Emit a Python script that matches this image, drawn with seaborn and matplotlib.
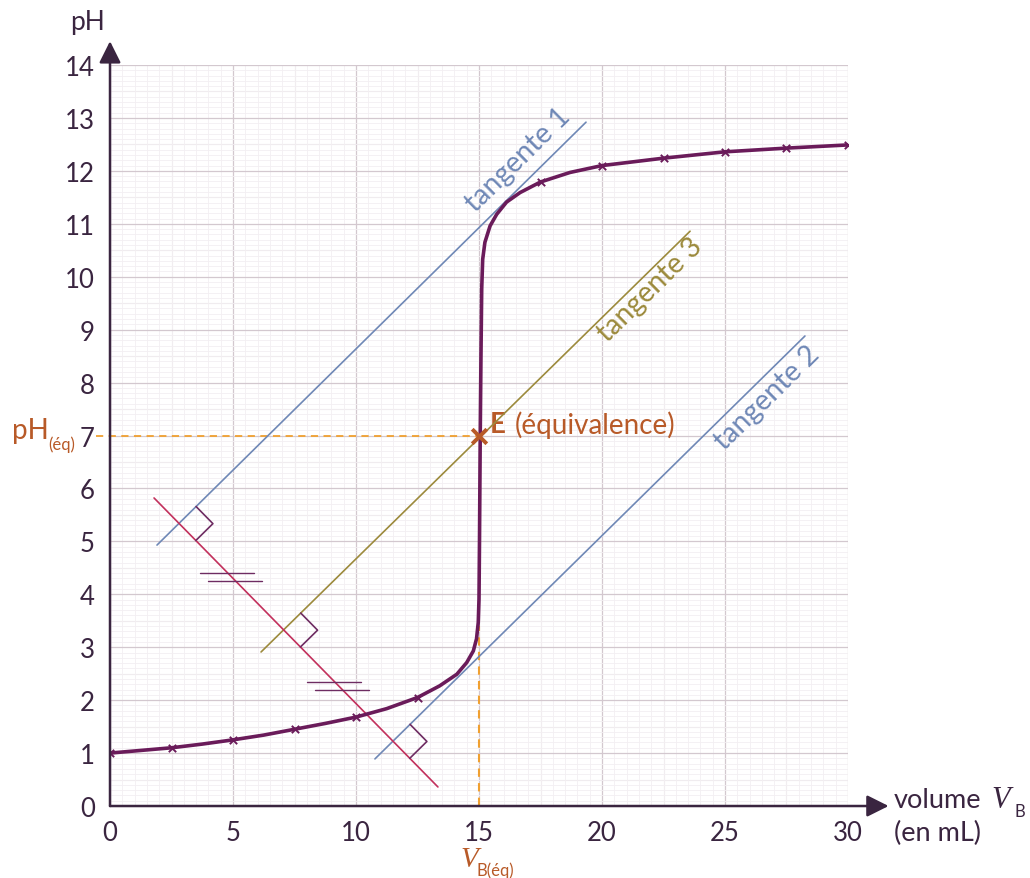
import numpy as np
import pandas as pd
import seaborn as sns
import matplotlib.pyplot as plt
from matplotlib.ticker import MultipleLocator

# measured points (crosses on the curve)
mes_v = [0, 2.5, 5, 7.5, 10, 12.5, 17.5, 20, 22.5, 25, 27.5, 30]
mes_ph = [1.0, 1.1, 1.25, 1.45, 1.68, 2.05, 11.79, 12.1, 12.24, 12.36, 12.43, 12.49]

# titration curve
curve_v = [0, 1.25, 2.5, 3.75, 5, 6.25, 7.5, 8.75, 10, 11.25, 12.5, 13.4, 14.1, 14.5,
           14.77, 14.9, 14.97, 15.0, 15.02, 15.05, 15.08, 15.11, 15.15, 15.24, 15.45,
           15.72, 16.12, 16.67, 17.5, 18.7, 20, 22.5, 25, 27.5, 30]
curve_ph = [1.0, 1.05, 1.1, 1.17, 1.25, 1.34, 1.45, 1.56, 1.68, 1.84, 2.05, 2.27, 2.49, 2.71,
            2.93, 3.16, 3.47, 3.91, 5.0, 7.0, 8.5, 9.77, 10.33, 10.65, 10.96,
            11.18, 11.41, 11.59, 11.79, 11.97, 12.1, 12.24, 12.36, 12.43, 12.49]

# construction lines (end points)
tan1 = [(1.91, 4.93), (19.35, 12.92)]
tan2 = [(10.77, 0.89), (28.25, 8.88)]
tan3 = [(6.14, 2.91), (23.58, 10.86)]
perp = [(1.79, 5.82), (13.33, 0.36)]

v_eq, ph_eq = 15, 7
x_ticks = [0, 5, 10, 15, 20, 25, 30]
y_ticks = list(range(0, 15))

c_axis = '#3a2540'
c_curve = '#6a1b5a'
c_blue = '#6f88b6'
c_olive = '#9c8a3c'
c_perp = '#c2305c'
c_mark = '#6e2c62'
c_eq = '#b85a28'
c_dash = '#f0a030'

sns.set_theme(style='white')
plt.rcParams['font.family'] = ['Lato', 'DejaVu Sans']

fig = plt.figure(figsize=(10.3, 8.79), dpi=100)
ax = fig.add_axes([0.1068, 0.0819, 0.7165, 0.843])

# curve and measured points
curve = pd.DataFrame({'V': curve_v, 'pH': curve_ph})
sns.lineplot(data=curve, x='V', y='pH', sort=False, estimator=None, color=c_curve, lw=2.6, ax=ax, zorder=5)
sns.scatterplot(x=mes_v, y=mes_ph, marker='x', s=28, color=c_curve, linewidth=1.4, ax=ax, zorder=6)

ax.set_xlim(0, 30)
ax.set_ylim(0, 14)
ax.set_xlabel('')
ax.set_ylabel('')

# grid
ax.set_xticks(x_ticks)
ax.set_yticks(y_ticks)
ax.xaxis.set_minor_locator(MultipleLocator(0.5))
ax.yaxis.set_minor_locator(MultipleLocator(0.1))
ax.grid(which='major', color='#d3c8cf', lw=0.9)
ax.grid(which='minor', color='#f3eff2', lw=0.6)
for yy in np.arange(0.5, 14, 1):
    ax.axhline(yy, color='#e6dfe4', lw=0.8, zorder=0.5)
for xx in np.arange(2.5, 30, 5):
    ax.axvline(xx, color='#ebe5e9', lw=0.8, zorder=0.5)
ax.set_axisbelow(True)
for s in ax.spines.values():
    s.set_visible(False)
ax.tick_params(which='both', length=0, labelsize=18.5, labelcolor=c_axis)
ax.tick_params(axis='y', pad=11)
ax.tick_params(axis='x', pad=10)

# axis arrows
arrow = dict(arrowstyle='-|>,head_length=0.6,head_width=0.3', color=c_axis, lw=1.8,
             mutation_scale=22, shrinkA=0, shrinkB=0)
ax.annotate('', xy=(31.65, 0), xytext=(0, 0), arrowprops=arrow, annotation_clip=False, zorder=8)
ax.annotate('', xy=(0, 14.45), xytext=(0, 0), arrowprops=arrow, annotation_clip=False, zorder=8)
ax.text(-0.9, 14.83, 'pH', fontsize=19, color=c_axis, ha='center', va='center', clip_on=False)
ax.text(31.85, 0.13, 'volume', fontsize=19.5, color=c_axis, ha='left', va='center')
ax.text(36.2, 0.13, 'V', fontsize=22, color=c_axis, family='Liberation Serif', style='italic',
        ha='center', va='center')
ax.text(36.75, -0.09, 'B', fontsize=12, color=c_axis, ha='left', va='center')
ax.text(31.85, -0.5, '(en mL)', fontsize=19.5, color=c_axis, ha='left', va='center')

# dashed guides
ax.plot([-0.55, v_eq], [ph_eq, ph_eq], ls=(0, (4, 3)), color=c_dash, lw=1.3, clip_on=False, zorder=3)
ax.plot([v_eq, v_eq], [0, 3.4], ls=(0, (4, 3)), color=c_dash, lw=1.5, zorder=3)

# tangents and perpendicular
for seg, col in [(tan1, c_blue), (tan2, c_blue), (tan3, c_olive), (perp, c_perp)]:
    ax.plot([seg[0][0], seg[1][0]], [seg[0][1], seg[1][1]], color=col, lw=1.2, zorder=4)

# equivalence point
ax.scatter([v_eq], [ph_eq], marker='x', s=110, color=c_eq, linewidths=2.8, zorder=7)
ax.text(15.45, 7.22, 'E', fontsize=20, weight='bold', color=c_eq, ha='left', va='center')
ax.text(16.45, 7.22, '(équivalence)', fontsize=20, color=c_eq, ha='left', va='center')
ax.text(-3.98, 7.1, 'pH', fontsize=20, color=c_eq, ha='left', va='center', clip_on=False)
ax.text(-2.5, 6.85, '(éq)', fontsize=12, color=c_eq, ha='left', va='center', clip_on=False)
ax.text(14.6, -1.0, 'V', fontsize=21, color=c_eq, family='Liberation Serif', style='italic',
        ha='center', va='center', clip_on=False)
ax.text(14.9, -1.21, 'B(éq)', fontsize=12, color=c_eq, ha='left', va='center', clip_on=False)

# tangent labels
ax.text(16.6, 12.22, 'tangente 1', fontsize=20.5, color=c_blue, rotation=44.6, ha='center', va='center')
ax.text(21.95, 9.77, 'tangente 3', fontsize=20.5, color=c_olive, rotation=44.6, ha='center', va='center')
ax.text(26.7, 7.73, 'tangente 2', fontsize=20.5, color=c_blue, rotation=44.6, ha='center', va='center')

# right angle marks and equal-length marks (pixel geometry)
to_px = ax.transData.transform
to_dat = ax.transData.inverted().transform


def inter(a, b):
    p1, p2 = np.array(a[0]), np.array(a[1])
    p3, p4 = np.array(b[0]), np.array(b[1])
    d1, d2 = p2 - p1, p4 - p3
    t = np.cross(p3 - p1, d2) / np.cross(d1, d2)
    return p1 + t * d1


def unit_px(seg):
    d = to_px(seg[1]) - to_px(seg[0])
    return d / np.linalg.norm(d)


u_p = unit_px(perp)
pts = []
for tg in [tan1, tan3, tan2]:
    P = to_px(inter(tg, perp))
    pts.append(P)
    u_t = unit_px(tg)
    a = 24
    sq = np.array([P + a * u_t, P + a * u_t + a * u_p, P + a * u_p])
    sq = to_dat(sq)
    ax.plot(sq[:, 0], sq[:, 1], color=c_mark, lw=1.2, zorder=4)

for A, B in [(pts[0], pts[1]), (pts[1], pts[2])]:
    M = (A + B) / 2
    for dy in (-4, 4):
        y = M[1] + dy
        x = M[0] + dy * u_p[0] / u_p[1]
        seg = to_dat(np.array([[x - 27, y], [x + 27, y]]))
        ax.plot(seg[:, 0], seg[:, 1], color=c_mark, lw=1.0, zorder=4)

fig.savefig('out.png', dpi=100)
